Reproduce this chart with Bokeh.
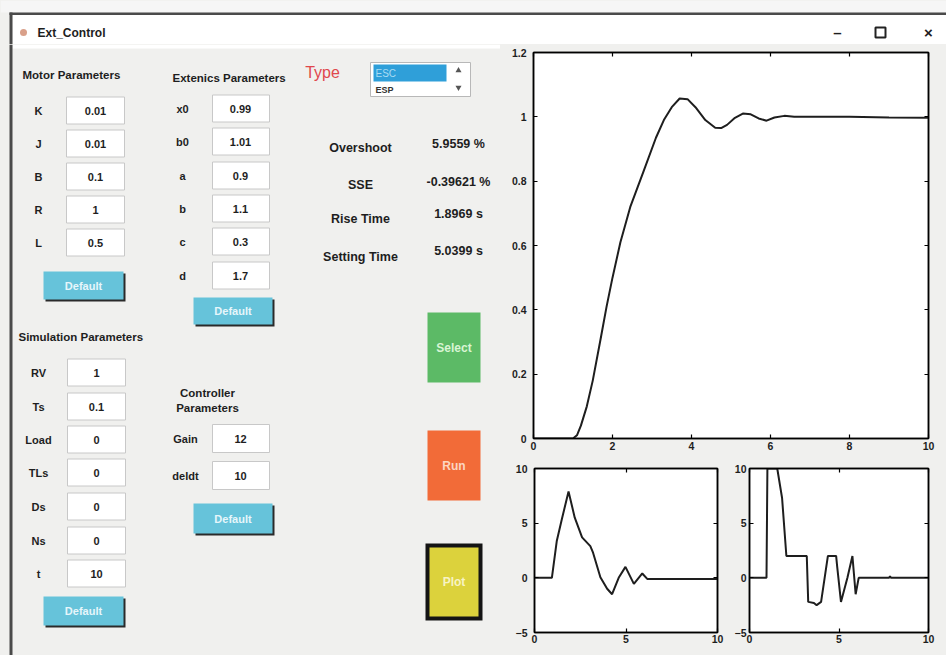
from bokeh.plotting import figure
from bokeh.layouts import column, row
from bokeh.models import Range1d, FixedTicker, LinearAxis
from bokeh.core.properties import value
from bokeh.embed import file_html
from bokeh.resources import INLINE

# ---------------- data ----------------
window_title = "Ext_Control"
window_buttons = ["\u2013", "\u00d7"]
motor_title = "Motor Parameters"
motor_labels = ["K", "J", "B", "R", "L"]
motor_values = ["0.01", "0.01", "0.1", "1", "0.5"]
ext_title = "Extenics Parameters"
ext_labels = ["x0", "b0", "a", "b", "c", "d"]
ext_values = ["0.99", "1.01", "0.9", "1.1", "0.3", "1.7"]
sim_title = "Simulation Parameters"
sim_labels = ["RV", "Ts", "Load", "TLs", "Ds", "Ns", "t"]
sim_values = ["1", "0.1", "0", "0", "0", "0", "10"]
ctrl_title = ["Controller", "Parameters"]
ctrl_labels = ["Gain", "deldt"]
ctrl_values = ["12", "10"]
default_label = "Default"
type_label = "Type"
type_items = ["ESC", "ESP"]
metric_labels = ["Overshoot", "SSE", "Rise Time", "Setting Time"]
metric_values = ["5.9559 %", "-0.39621 %", "1.8969 s", "5.0399 s"]
action_labels = ["Select", "Run", "Plot"]

step_t = [0, 1.0, 1.1, 1.2, 1.35, 1.5, 1.7, 1.85, 2.0, 2.2, 2.45, 2.8, 3.1, 3.3, 3.5,
          3.7, 3.9, 4.1, 4.35, 4.6, 4.75, 4.9, 5.1, 5.3, 5.5, 5.7, 5.9, 6.1, 6.35, 6.6,
          7.0, 8.0, 9.0, 10.0]
step_y = [0, 0, 0.01, 0.04, 0.10, 0.18, 0.31, 0.41, 0.50, 0.61, 0.72, 0.835, 0.935,
          0.99, 1.03, 1.057, 1.055, 1.03, 0.99, 0.966, 0.965, 0.975, 0.997, 1.01, 1.008,
          0.995, 0.988, 0.998, 1.003, 1.0, 1.0, 1.0, 0.998, 0.997]

u1_t = [0, 0.95, 1.22, 1.5, 1.86, 2.2, 2.6, 3.05, 3.2, 3.6, 3.97, 4.24, 4.6, 4.97,
        5.43, 5.89, 6.16, 10.0]
u1_y = [0, 0, 3.4, 5.4, 7.9, 5.5, 3.7, 2.9, 2.3, 0.06, -1.0, -1.5, 0.0, 1.0, -0.55,
        0.4, -0.1, -0.1]

u2_t = [0, 0.95, 1.0, 1.55, 1.82, 2.06, 3.2, 3.28, 3.6, 3.75, 4.0, 4.38, 4.84, 4.9,
        5.11, 5.47, 5.75, 5.93, 6.1, 7.8, 7.85, 7.9, 10.0]
u2_y = [0, 0, 10, 10, 7.3, 2.0, 2.0, -2.2, -2.3, -2.5, -2.2, 2.0, 2.0, 1.0, -2.2, 0,
        2.0, -1.5, 0, 0, 0.15, 0, 0]

main_xticks = [0, 2, 4, 6, 8, 10]
main_yticks = [0, 0.2, 0.4, 0.6, 0.8, 1.0, 1.2]
main_ytick_labels = ["0", "0.2", "0.4", "0.6", "0.8", "1", "1.2"]
sub_xticks = [0, 5, 10]
sub_yticks = [-5, 0, 5, 10]

# ---------------- style ----------------
FONT = "Liberation Sans"
BG = "#f0f0ee"
INK = "#1e1e1e"


def canvas(w, h, x0, y0):
    p = figure(width=w, height=h, x_range=Range1d(x0, x0 + w), y_range=Range1d(y0 + h, y0),
               x_axis_location=None, y_axis_location=None, toolbar_location=None,
               output_backend="svg", min_border=0, background_fill_color=BG,
               border_fill_color=BG, outline_line_color=None)
    p.grid.visible = False
    return p


def txt(p, xs, ys, texts, size=12, color=INK, align="center", style="bold"):
    p.text(x=xs, y=ys, text=texts, text_font=value(FONT), text_font_style=style,
           text_font_size=f"{size}px", text_align=align, text_baseline="middle",
           text_color=color)


def boxes(p, x0, x1, ys, h=27):
    p.quad(left=[x0] * len(ys), right=[x1] * len(ys),
           top=[y - h / 2 for y in ys], bottom=[y + h / 2 for y in ys],
           fill_color="white", line_color="#c8c8c8", line_width=1)


def default_button(p, x0, x1, y0, y1):
    p.quad(left=[x0 + 2], right=[x1 + 2], top=[y0 + 2], bottom=[y1 + 2],
           fill_color="#2a2a2a", line_color=None)
    p.quad(left=[x0], right=[x1], top=[y0], bottom=[y1],
           fill_color="#66c3da", line_color=None)
    txt(p, [(x0 + x1) / 2], [(y0 + y1) / 2], [default_label], size=11, color="#e6f6fb")


# ---------------- title bar ----------------
tb = canvas(946, 44, 0, 0)
tb.quad(left=[0], right=[946], top=[0], bottom=[12], fill_color="#f6f6f6", line_color=None)
tb.quad(left=[9], right=[946], top=[12], bottom=[14.5], fill_color="#4a4a4a", line_color=None)
tb.quad(left=[12], right=[946], top=[14.5], bottom=[44], fill_color="white", line_color=None)
tb.quad(left=[9], right=[12], top=[12], bottom=[44], fill_color="#4a4a4a", line_color=None)
tb.scatter(x=[23], y=[32], size=7, marker="circle", fill_color="#d9a08a", line_color=None)
txt(tb, [37], [32], [window_title], size=12, align="left")
txt(tb, [837, 928], [32, 32], window_buttons, size=15, style="bold")
tb.quad(left=[875], right=[885], top=[27], bottom=[37], fill_color=None,
        line_color="#222", line_width=2)

# ---------------- left panel ----------------
lp = canvas(500, 611, 0, 44)
lp.quad(left=[12], right=[500], top=[44], bottom=[48], fill_color="white", line_color=None)
lp.quad(left=[9], right=[12], top=[44], bottom=[655], fill_color="#4a4a4a", line_color=None)

# motor parameters
txt(lp, [22], [74], [motor_title], size=11.5, align="left")
motor_y = [110, 143, 176, 209, 242]
boxes(lp, 66, 124, motor_y)
txt(lp, [38] * 5, motor_y, motor_labels, size=11)
txt(lp, [95] * 5, motor_y, motor_values, size=11)
default_button(lp, 43, 123, 271, 299)

# extenics parameters
txt(lp, [172], [77], [ext_title], size=11.5, align="left")
ext_y = [108, 141, 175, 208, 241, 275]
boxes(lp, 212, 269, ext_y)
txt(lp, [182] * 6, ext_y, ext_labels, size=11)
txt(lp, [240] * 6, ext_y, ext_values, size=11)
default_button(lp, 193, 272, 297, 324)

# simulation parameters
txt(lp, [18], [336], [sim_title], size=11.5, align="left")
sim_y = [372, 406, 439, 472, 506, 540, 573]
boxes(lp, 67, 125, sim_y)
txt(lp, [38] * 7, sim_y, sim_labels, size=11)
txt(lp, [96] * 7, sim_y, sim_values, size=11)
default_button(lp, 43, 123, 596, 625)

# controller parameters
txt(lp, [207, 207], [392, 407], ctrl_title, size=11.5)
ctrl_y = [438, 475]
boxes(lp, 212, 269, ctrl_y, h=28)
txt(lp, [185, 185], ctrl_y, ctrl_labels, size=11)
txt(lp, [240, 240], ctrl_y, ctrl_values, size=11)
default_button(lp, 193, 272, 503, 533)

# type selector
txt(lp, [322], [72], [type_label], size=16, color="#e0474c", style="normal")
lp.quad(left=[370], right=[470], top=[62], bottom=[96], fill_color="white",
        line_color="#b8b8b8", line_width=1)
lp.quad(left=[373], right=[446], top=[64], bottom=[81], fill_color="#2f9fd9", line_color=None)
txt(lp, [375], [72.5], [type_items[0]], size=10, color="#a9dcf3", align="left", style="normal")
txt(lp, [375], [89], [type_items[1]], size=9, color="#333333", align="left", style="bold")
lp.scatter(x=[458, 458], y=[70, 87], marker="triangle", size=6, angle=[0, 3.14159],
           fill_color="#555555", line_color=None)

# metrics
metric_ly = [147, 184, 218, 256]
metric_vy = [143, 181, 213, 250]
txt(lp, [360] * 4, metric_ly, metric_labels, size=12.5)
txt(lp, [458] * 4, metric_vy, metric_values, size=12.5)

# action buttons
lp.quad(left=[427], right=[480], top=[312], bottom=[382], fill_color="#5cba66", line_color=None)
lp.quad(left=[427], right=[480], top=[430], bottom=[500], fill_color="#f26b38", line_color=None)
lp.quad(left=[425], right=[482], top=[543], bottom=[620], fill_color="#141414", line_color=None)
lp.quad(left=[429], right=[478], top=[547], bottom=[616], fill_color="#dcd23c", line_color=None)
txt(lp, [453.5, 453.5, 453.5], [347, 465, 581.5], action_labels, size=12,
    color=["#d9f5d4", "#fcd6c2", "#f7f3c4"])


# ---------------- plots ----------------
def plotfig(w, h, xr, yr, mb, xticks, yticks, ystand, xstand):
    p = figure(width=w, height=h, x_range=Range1d(*xr), y_range=Range1d(*yr),
               toolbar_location=None, output_backend="svg",
               background_fill_color="white", border_fill_color=BG,
               outline_line_color="black", outline_line_width=1.5,
               min_border_left=mb[0], min_border_right=mb[1],
               min_border_top=mb[2], min_border_bottom=mb[3])
    p.grid.visible = False
    p.add_layout(LinearAxis(), "above")
    p.add_layout(LinearAxis(), "right")
    for ax in p.xaxis:
        ax.ticker = FixedTicker(ticks=xticks)
    for ax in p.yaxis:
        ax.ticker = FixedTicker(ticks=yticks)
    for ax in p.axis:
        ax.axis_line_color = "black"
        ax.axis_line_width = 1.5
        ax.major_tick_in = 4
        ax.major_tick_out = 0
        ax.major_tick_line_color = "black"
        ax.major_tick_line_width = 1.2
        ax.minor_tick_line_color = None
        ax.major_label_text_font = FONT
        ax.major_label_text_font_style = "bold"
        ax.major_label_text_font_size = "10.5px"
        ax.major_label_text_color = INK
    p.above[0].major_label_overrides = {t: "" for t in xticks}
    p.above[0].major_label_standoff = 0
    p.right[0].major_label_overrides = {t: "" for t in yticks}
    p.right[0].major_label_standoff = 0
    p.below[0].major_label_standoff = xstand
    p.left[0].major_label_standoff = ystand
    return p


mp = plotfig(446, 414, (0, 10), (0, 1.2), (33, 18, 8, 20), main_xticks, main_yticks, 7, 3)
mp.left[0].major_label_overrides = {t: s for t, s in zip(main_yticks, main_ytick_labels)}
mp.line(step_t, step_y, line_color=INK, line_width=2)

s1 = plotfig(231, 197, (0, 10), (-5, 10), (34, 14, 10, 23), sub_xticks, sub_yticks, 7, 2)
s1.line(u1_t, u1_y, line_color=INK, line_width=2)

s2 = plotfig(215, 197, (0, 10), (-5, 10), (14, 18, 10, 23), sub_xticks, sub_yticks, 3, 2)
s2.line(u2_t, u2_y, line_color=INK, line_width=2)

bg_style = {"background-color": BG}
right = column(mp, row(s1, s2, spacing=0, styles=bg_style), spacing=0, styles=bg_style)
page = column(tb, row(lp, right, spacing=0, styles=bg_style), spacing=0, styles=bg_style)

open("out.html", "w").write(file_html(page, INLINE))
